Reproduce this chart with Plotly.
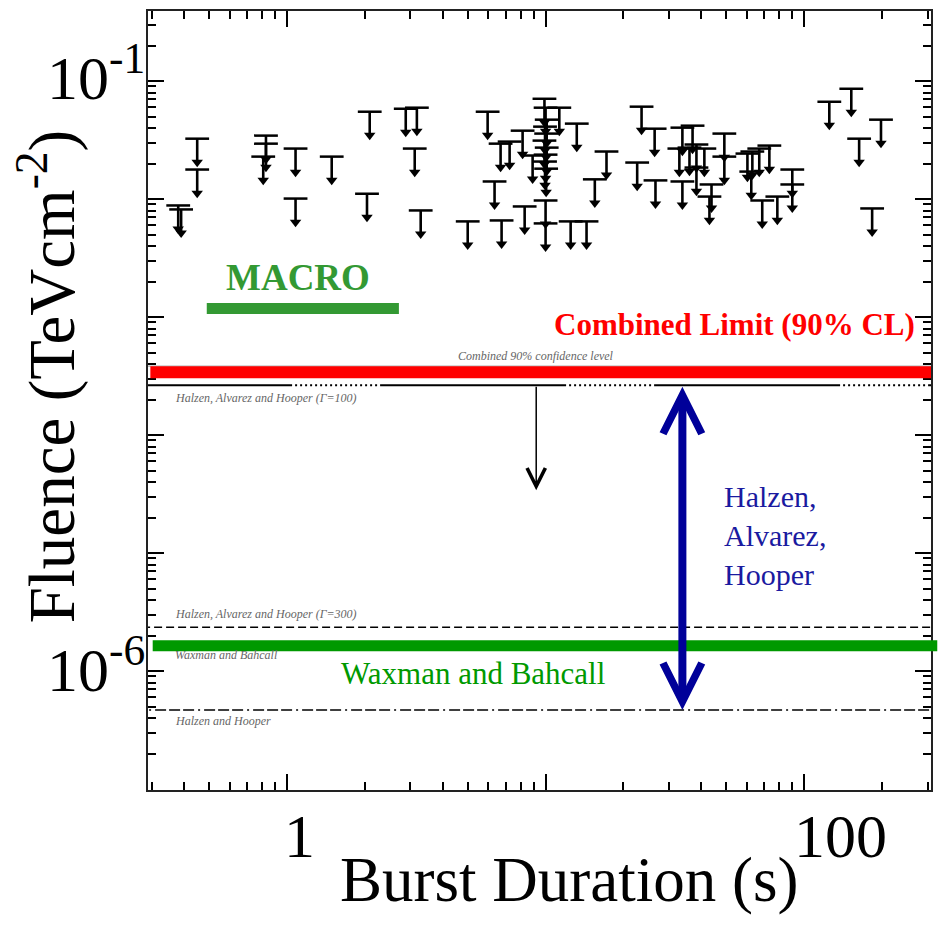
import numpy as np
import plotly.graph_objects as go

# Individual bursts: duration (s) and 90% CL fluence upper limit (TeV cm^-2)
duration_s = [
    0.38, 0.39, 0.45, 0.45, 0.83, 0.83, 0.81, 1.08, 1.08, 1.49,
    2.09, 2.04, 2.88, 3.18, 3.12, 3.29, 5.0, 5.97, 6.35, 6.76,
    6.70, 7.26, 8.15, 8.30, 8.91,
    9.9, 10.0, 10.1, 9.95, 10.05, 9.9, 10.1, 10.0, 9.95, 10.05, 10.0, 10.0,
    11.3, 13.2, 17.2, 15.5, 12.5, 14.4, 23.5, 26.4, 22.6, 26.6,
    33.8, 37.0, 32.9, 36.0, 38.3, 41.1, 33.8, 38.3, 43.8, 43.0,
    49.1, 49.1, 60.3, 63.0, 67.0, 73.3, 62.4, 68.8, 78.7, 89.9,
    89.9, 125, 152, 163, 198, 183,
]
fluence_ul = [
    0.00883, 0.00817, 0.0325, 0.0178, 0.0345, 0.0295, 0.0229, 0.0268, 0.0101, 0.0229,
    0.0550, 0.0111, 0.0583, 0.0595, 0.0268, 0.00801, 0.00647, 0.0550, 0.0141, 0.00659,
    0.0295, 0.0307, 0.0380, 0.00866, 0.0234,
    0.0708, 0.0595, 0.0471, 0.0411, 0.0359, 0.0313, 0.0273, 0.0238, 0.0208, 0.0181, 0.00973, 0.00622,
    0.0595, 0.0436, 0.0253, 0.0147, 0.00647, 0.00647, 0.0607, 0.0395, 0.0204, 0.0144,
    0.0403, 0.0419, 0.0268, 0.0273, 0.0290, 0.0268, 0.0141, 0.0185, 0.0133, 0.0105,
    0.0359, 0.0229, 0.0243, 0.0253, 0.0268, 0.0284, 0.0171, 0.00973, 0.0105, 0.0178,
    0.0133, 0.0668, 0.0861, 0.0325, 0.0471, 0.00833,
]

# Limit and model levels (TeV cm^-2)
combined_90_level = 3.84e-4
combined_limit = 3.4e-4
hah_gamma100 = 2.65e-4
hah_gamma300 = 2.35e-6
waxman_bahcall = 1.64e-6
halzen_hooper = 4.67e-7
macro_level = 1.18e-3
macro_duration = [0.49, 2.71]
combined_arrow_x = 9.2
combined_arrow_tip = 3.4e-5
hah_arrow_x = 33.8

x_tick_vals = [1, 100]
x_tick_text = ["1", "100"]
y_tick_vals = [1e-1, 1e-6]
y_tick_text = ["10<sup>-1</sup>", "10<sup>-6</sup>"]

SERIF = "Liberation Serif, Times New Roman, serif"
lg = np.log10

fig = go.Figure()

# Upper-limit arrows: cap at the limit, stem and head below it
stem_factor = 10 ** -0.2
heads = [f * stem_factor for f in fluence_ul]
fig.add_trace(go.Scatter(
    x=duration_s, y=fluence_ul, mode="markers",
    marker=dict(symbol="line-ew", size=17, color="black",
                line=dict(width=2.5, color="black")),
    error_y=dict(type="data", symmetric=False,
                 array=[0] * len(fluence_ul),
                 arrayminus=[f - h for f, h in zip(fluence_ul, heads)],
                 width=0, thickness=2.6, color="black"),
    showlegend=False, hoverinfo="skip",
))
fig.add_trace(go.Scatter(
    x=duration_s, y=heads, mode="markers",
    marker=dict(symbol="triangle-down", size=10, color="black"),
    showlegend=False, hoverinfo="skip",
))

# Reference levels
dotted_run = [3, 2] * 17 + [3]
gamma100_dash = ",".join(f"{v}px" for v in [186] + dotted_run)
fig.add_shape(type="line", xref="paper", x0=0, x1=1, yref="y",
              y0=combined_90_level, y1=combined_90_level,
              line=dict(color="#999999", width=1))
fig.add_shape(type="line", xref="x", x0=0.2, x1=500, yref="y",
              y0=hah_gamma100, y1=hah_gamma100,
              line=dict(color="black", width=2, dash=gamma100_dash))
fig.add_shape(type="line", xref="x", x0=0.2, x1=500, yref="y",
              y0=hah_gamma300, y1=hah_gamma300,
              line=dict(color="black", width=1.5, dash="8px,4px"))
fig.add_shape(type="line", xref="x", x0=0.2, x1=500, yref="y",
              y0=halzen_hooper, y1=halzen_hooper,
              line=dict(color="black", width=1.5,
                        dash="11px,3px,11px,3px,11px,4px,2px,4px"))
fig.add_shape(type="line", xref="paper", x0=0.003, x1=1.0, yref="y",
              y0=combined_limit, y1=combined_limit,
              line=dict(color="#ff0000", width=12))
fig.add_shape(type="line", xref="paper", x0=0.006, x1=1.008, yref="y",
              y0=waxman_bahcall, y1=waxman_bahcall,
              line=dict(color="#009900", width=11))
fig.add_shape(type="line", xref="x", x0=macro_duration[0], x1=macro_duration[1],
              yref="y", y0=macro_level, y1=macro_level,
              line=dict(color="#339933", width=11))

# Arrows
fig.add_annotation(x=lg(combined_arrow_x), y=lg(combined_arrow_tip),
                   ax=lg(combined_arrow_x), ay=lg(hah_gamma100),
                   xref="x", yref="y", axref="x", ayref="y", text="",
                   showarrow=True, arrowhead=5, arrowsize=2.4, arrowwidth=1.5,
                   arrowcolor="black")
fig.add_annotation(x=lg(hah_arrow_x), y=lg(halzen_hooper),
                   ax=lg(hah_arrow_x), ay=lg(hah_gamma100),
                   xref="x", yref="y", axref="x", ayref="y", text="",
                   showarrow=True, arrowside="end+start",
                   arrowhead=5, startarrowhead=5,
                   arrowsize=0.95, startarrowsize=0.95, arrowwidth=8,
                   arrowcolor="#000099")

# Labels in the plot
fig.add_annotation(x=0.042, y=-2.663, xref="x", yref="y", text="<b>MACRO</b>",
                   showarrow=False, font=dict(family=SERIF, size=37, color="#339933"))
fig.add_annotation(x=2.436, y=-3.06, xref="x", yref="y", xanchor="right",
                   text="<b>Combined Limit (90% CL)</b>", showarrow=False,
                   font=dict(family=SERIF, size=31, color="#ff0000"))
fig.add_annotation(x=1.683, y=-4.85, xref="x", yref="y", xanchor="left", align="left",
                   text="Halzen,<br>Alvarez,<br>Hooper", showarrow=False,
                   font=dict(family=SERIF, size=30, color="#1a1aa0"))
fig.add_annotation(x=0.718, y=-6.018, xref="x", yref="y",
                   text="Waxman and Bahcall", showarrow=False,
                   font=dict(family=SERIF, size=31, color="#009900"))

small = dict(family=SERIF, size=12, color="#666666")
fig.add_annotation(x=lg(combined_arrow_x), y=-3.33, xref="x", yref="y",
                   text="<i>Combined 90% confidence level</i>", showarrow=False, font=small)
fig.add_annotation(x=-0.44, y=-3.686, xref="x", yref="y", xanchor="left",
                   text="<i>Halzen, Alvarez and Hooper (Γ=100)</i>", showarrow=False, font=small)
fig.add_annotation(x=-0.44, y=-5.52, xref="x", yref="y", xanchor="left",
                   text="<i>Halzen, Alvarez and Hooper (Γ=300)</i>", showarrow=False, font=small)
fig.add_annotation(x=-0.44, y=-5.866, xref="x", yref="y", xanchor="left",
                   text="<i>Waxman and Bahcall</i>", showarrow=False, font=small)
fig.add_annotation(x=-0.44, y=-6.42, xref="x", yref="y", xanchor="left",
                   text="<i>Halzen and Hooper</i>", showarrow=False, font=small)

# Tick labels
for v, t, dx in zip(x_tick_vals, x_tick_text, [13, 36]):
    fig.add_annotation(x=lg(v), y=-0.059, xref="x", yref="paper", xshift=dx,
                       text=t, showarrow=False, xanchor="center", yanchor="middle",
                       font=dict(family=SERIF, size=62, color="black"))
for v, t, dy in zip(y_tick_vals, y_tick_text, [8, 6]):
    fig.add_annotation(x=-0.01, y=lg(v), xref="paper", yref="y", xshift=7, yshift=dy,
                       xanchor="right", yanchor="middle", text=t, showarrow=False,
                       font=dict(family=SERIF, size=62, color="black"))

# Axis titles
fig.add_annotation(x=0.538, y=-0.115, xref="paper", yref="paper",
                   xanchor="center", yanchor="middle",
                   text="Burst Duration (s)", showarrow=False,
                   font=dict(family=SERIF, size=63, color="black"))
fig.add_annotation(x=-0.129, y=0.531, xref="paper", yref="paper", textangle=-90,
                   xanchor="center", yanchor="middle",
                   text="Fluence (TeVcm<sup>-2</sup>)", showarrow=False,
                   font=dict(family=SERIF, size=65, color="black"))

x_minor = [m * 10 ** e for e in range(-1, 3) for m in range(2, 10)]
y_minor = [m * 10.0 ** e for e in range(-8, 0) for m in range(2, 10)]

axis_common = dict(type="log", showline=True, linewidth=2, linecolor="#222222",
                   mirror="allticks", ticks="inside", ticklen=16, tickwidth=1.5,
                   tickcolor="black", showticklabels=False, showgrid=False,
                   zeroline=False)
fig.update_layout(
    width=942, height=925,
    margin=dict(l=148, r=10, t=9, b=135),
    paper_bgcolor="white", plot_bgcolor="white",
    xaxis=dict(range=[-0.537, 2.490], tickvals=[0.1, 1, 10, 100],
               minor=dict(ticks="inside", ticklen=8, tickwidth=1.5,
                          tickcolor="black", tickvals=x_minor, showgrid=False),
               **axis_common),
    yaxis=dict(range=[-7.008, -0.406], tickvals=[10.0 ** e for e in range(-8, 1)],
               minor=dict(ticks="inside", ticklen=8, tickwidth=1.5,
                          tickcolor="black", tickvals=y_minor, showgrid=False),
               **axis_common),
    showlegend=False,
)

fig.write_html("out.html")
